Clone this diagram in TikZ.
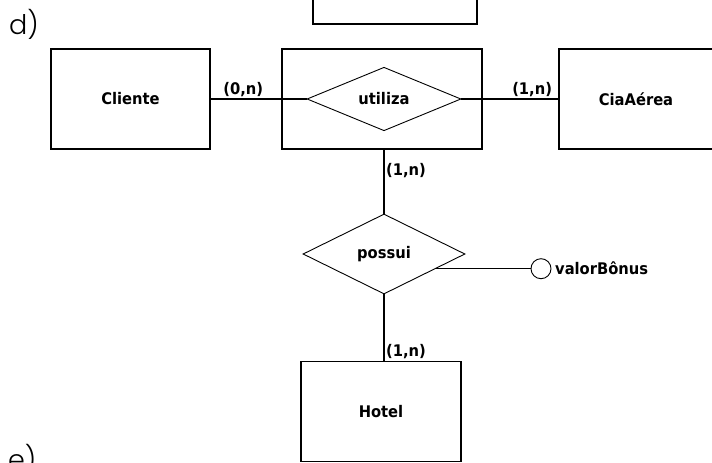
\documentclass[tikz,border=0pt]{standalone}
\usepackage{fontspec}
\setmainfont{DejaVu Sans}
\newfontfamily\erfont[FakeStretch=0.92]{DejaVu Sans}
\newfontfamily\letterfont{Poppins Light}
\usetikzlibrary{positioning,shapes.geometric}

\begin{document}
\begin{tikzpicture}[x=1pt,y=-1pt,
  entity/.style={draw,line width=1.4pt,minimum width=#1,minimum height=100pt,inner sep=0pt,
    font=\fontsize{16}{19}\erfont\bfseries},
  relation/.style={draw,diamond,line width=0.9pt,inner sep=0pt,
    font=\fontsize{16}{19}\erfont\bfseries},
  card/.style={font=\fontsize{16}{19}\erfont\bfseries,inner sep=1.5pt},
  item/.style={font=\fontsize{27}{32}\letterfont,inner sep=0pt,anchor=base west}]
\useasboundingbox (0,0) rectangle (712,463);
\node[item] (itemd) at (9,34) {d)};
\node[item] (iteme) at (8,469) {e)};
\node[entity=164pt,minimum height=80pt] (prev) at (395,-16) {};
\node[entity=159pt] (cliente) at (130.5,99) {Cliente};
\node[entity=200pt] (agg) at (382,99) {};
\node[relation,minimum width=154pt,minimum height=56pt] (utiliza) at (384,99) {utiliza};
\node[entity=154pt] (cia) at (636,99) {CiaAérea};
\node[relation,minimum width=162pt,minimum height=80pt] (possui) at (384,254) {possui};
\node[circle,draw,line width=0.9pt,minimum size=20pt,inner sep=0pt] (valor) at (541,268.7) {};
\node[card,right=2pt of valor] (valorname) {valorBônus};
\node[entity=160pt] (hotel) at (381,411.5) {Hotel};
\draw[line width=1.2pt] (cliente.east) -- (utiliza.west) node[card,pos=0.34,above]{(0,n)};
\draw[line width=1.2pt] (utiliza.east) -- (cia.west) node[card,pos=0.73,above]{(1,n)};
\draw[line width=1.2pt] (possui.north |- agg.south) -- (possui.north) node[card,pos=0.32,right]{(1,n)};
\draw[line width=1.2pt] (possui.south) -- (possui.south |- hotel.north) node[card,pos=1,anchor=south west]{(1,n)};
\draw[line width=1.2pt] (possui.-16) -- (possui.-16 -| valor.west);
\end{tikzpicture}
\end{document}
